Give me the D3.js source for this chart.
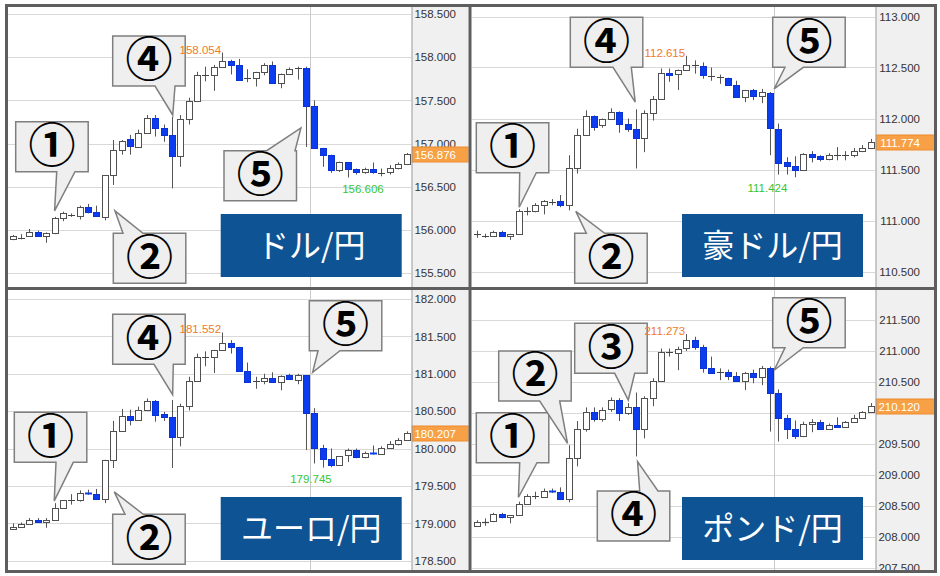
<!DOCTYPE html>
<html><head><meta charset="utf-8">
<script src="https://cdn.jsdelivr.net/npm/d3@7"></script>
<style>body{margin:0;background:#fff}svg{display:block}</style>
</head><body>
<svg id="c" width="940" height="576"></svg>
<script>
// ---------- DATA ----------
const usdOpen  = [155.89,155.91,155.93,155.98,155.93,155.96,156.14,156.17,156.16,156.26,156.21,156.15,156.63,156.92,157.05,156.96,157.12,157.29,157.18,157.10,156.85,157.28,157.49,157.79,157.79,157.89,157.95,157.91,157.76,157.76,157.83,157.91,157.70,157.81,157.86,157.88,157.43,156.95,156.87,156.69,156.78,156.70,156.67,156.70,156.66,156.67,156.72,156.76];
const usdHigh  = [155.94,155.95,156.01,155.99,155.97,156.15,156.21,156.19,156.28,156.30,156.28,156.63,157.04,157.04,157.10,157.16,157.33,157.33,157.22,157.31,157.33,157.53,157.83,157.89,157.91,158.054,157.97,157.98,157.86,157.83,157.93,157.95,157.81,157.88,157.89,157.89,157.50,156.95,156.87,156.79,156.78,156.71,156.72,156.78,156.71,156.75,156.78,156.89];
const usdLow   = [155.88,155.89,155.92,155.92,155.85,155.95,156.10,156.15,156.12,156.19,156.15,156.11,156.52,156.87,156.87,156.96,157.12,157.08,157.02,156.48,156.73,157.22,157.49,157.72,157.61,157.89,157.80,157.73,157.71,157.66,157.79,157.70,157.64,157.80,157.74,156.96,156.95,156.73,156.66,156.67,156.606,156.64,156.65,156.65,156.62,156.64,156.70,156.75];
const usdClose = [155.93,155.91,155.98,155.93,155.96,156.14,156.19,156.17,156.26,156.21,156.16,156.63,156.92,157.03,156.97,157.12,157.30,157.18,157.10,156.86,157.28,157.49,157.79,157.79,157.89,157.95,157.91,157.74,157.76,157.83,157.91,157.70,157.81,157.86,157.88,157.43,156.95,156.87,156.69,156.78,156.70,156.67,156.70,156.67,156.66,156.72,156.76,156.876];
const usdTicks = [155.5,156.0,156.5,157.0,157.5,158.0,158.5];

const audOpen  = [110.87,110.85,110.85,110.89,110.85,110.87,111.09,111.09,111.15,111.18,111.19,111.15,111.51,111.84,112.02,111.94,112.00,112.06,111.95,111.90,111.81,112.05,112.19,112.45,112.44,112.48,112.52,112.51,112.42,112.41,112.40,112.33,112.21,112.28,112.22,112.25,111.90,111.57,111.53,111.50,111.65,111.63,111.60,111.64,111.64,111.64,111.68,111.71];
const audHigh  = [110.90,110.87,110.90,110.90,110.87,111.11,111.13,111.17,111.20,111.21,111.25,111.64,111.90,112.08,112.03,112.00,112.10,112.07,112.00,112.09,112.08,112.22,112.49,112.49,112.48,112.615,112.57,112.55,112.50,112.43,112.40,112.37,112.28,112.29,112.29,112.26,111.95,111.62,111.63,111.66,111.68,111.64,111.66,111.72,111.68,111.71,111.74,111.80];
const audLow   = [110.83,110.83,110.84,110.84,110.81,110.87,111.05,111.08,111.06,111.15,111.13,111.10,111.46,111.84,111.88,111.91,112.00,111.86,111.87,111.51,111.67,111.98,112.19,112.36,112.28,112.48,112.44,112.39,112.37,112.34,112.32,112.21,112.16,112.18,112.15,111.64,111.45,111.45,111.424,111.49,111.57,111.58,111.59,111.59,111.59,111.62,111.67,111.70];
const audClose = [110.87,110.85,110.89,110.85,110.87,111.09,111.09,111.15,111.19,111.18,111.15,111.51,111.84,112.02,111.92,112.00,112.06,111.95,111.90,111.81,112.05,112.19,112.45,112.43,112.48,112.52,112.52,112.43,112.42,112.41,112.33,112.21,112.28,112.22,112.26,111.91,111.56,111.53,111.50,111.65,111.62,111.60,111.64,111.64,111.64,111.68,111.71,111.774];
const audTicks = [110.5,111.0,111.5,112.0,112.5,113.0];

const eurOpen  = [178.93,178.955,178.986,179.044,179.013,179.044,179.21,179.31,179.31,179.41,179.39,179.33,179.85,180.23,180.44,180.38,180.52,180.63,180.46,180.42,180.16,180.57,180.90,181.22,181.22,181.32,181.41,181.36,181.04,180.89,180.91,180.94,180.89,180.98,180.92,180.98,180.47,180.01,179.86,179.78,179.91,179.98,179.89,179.94,179.93,180.01,180.06,180.11];
const eurHigh  = [179.00,179.01,179.07,179.07,179.07,179.27,179.31,179.39,179.44,179.45,179.46,179.85,180.37,180.53,180.52,180.56,180.67,180.65,180.49,180.65,180.60,180.96,181.27,181.30,181.32,181.552,181.45,181.36,181.15,180.96,181.00,181.02,180.98,181.00,181.00,180.98,180.54,180.05,180.00,179.90,180.00,180.00,179.96,180.04,180.03,180.10,180.14,180.23];
const eurLow   = [178.93,178.955,178.986,179.013,178.94,179.044,179.20,179.25,179.29,179.38,179.33,179.27,179.74,180.23,180.31,180.38,180.50,180.36,180.37,179.74,180.03,180.51,180.90,181.10,181.01,181.32,181.27,181.03,180.88,180.80,180.86,180.88,180.78,180.92,180.86,179.98,179.80,179.745,179.75,179.78,179.82,179.87,179.87,179.92,179.92,180.00,180.04,180.11];
const eurClose = [178.955,178.986,179.044,179.013,179.044,179.21,179.31,179.31,179.41,179.39,179.33,179.85,180.23,180.44,180.38,180.52,180.63,180.45,180.42,180.16,180.57,180.90,181.22,181.22,181.32,181.41,181.36,181.04,180.89,180.91,180.95,180.89,180.97,180.93,180.98,180.47,180.01,179.86,179.78,179.90,179.98,179.89,179.94,179.93,180.01,180.06,180.11,180.207];
const eurTicks = [178.5,179.0,179.5,180.0,180.5,181.0,181.5,182.0];

const gbpOpen  = [208.18,208.24,208.26,208.37,208.32,208.355,208.54,208.66,208.65,208.75,208.72,208.62,209.28,209.74,210.01,209.90,210.06,210.21,210.005,210.09,209.74,210.24,210.51,210.98,210.96,211.05,211.18,211.07,210.73,210.66,210.66,210.60,210.51,210.64,210.58,210.73,210.33,209.925,209.74,209.63,209.82,209.85,209.75,209.81,209.78,209.86,209.925,210.01];
const gbpHigh  = [208.27,208.30,208.39,208.39,208.34,208.57,208.69,208.73,208.78,208.78,208.80,209.48,209.87,210.09,210.09,210.09,210.25,210.24,210.16,210.33,210.27,210.56,211.04,211.04,211.07,211.273,211.23,211.10,210.91,210.72,210.70,210.66,210.66,210.70,210.76,210.75,210.38,209.97,209.88,209.86,209.90,209.89,209.83,209.93,209.87,209.97,210.03,210.16];
const gbpLow   = [208.17,208.18,208.24,208.30,208.22,208.355,208.53,208.61,208.63,208.71,208.62,208.56,209.14,209.70,209.86,209.86,210.02,209.87,209.97,209.30,209.59,210.11,210.51,210.91,210.69,211.00,211.02,210.65,210.64,210.53,210.53,210.51,210.37,210.48,210.45,209.70,209.54,209.58,209.58,209.61,209.69,209.74,209.74,209.77,209.77,209.84,209.91,210.01];
const gbpClose = [208.25,208.24,208.37,208.32,208.355,208.54,208.66,208.66,208.75,208.72,208.62,209.28,209.74,210.01,209.90,210.05,210.21,210.005,210.09,209.74,210.24,210.51,210.98,210.98,211.04,211.18,211.07,210.73,210.64,210.66,210.60,210.51,210.64,210.58,210.73,210.33,209.925,209.74,209.63,209.82,209.85,209.75,209.81,209.78,209.86,209.925,210.01,210.12];
const gbpTicks = [207.5,208.0,208.5,209.0,209.5,210.0,210.5,211.0,211.5];

const titles = ["ドル/円","豪ドル/円","ユーロ/円","ポンド/円"];
const circled = {"1":"①","2":"②","3":"③","4":"④","5":"⑤"};

// ---------- LAYOUT ----------
const PW = 403.5, PH = 280;
const panels = [
  {id:"usd", left:8,   top:7,   axisW:57, o:usdOpen,h:usdHigh,l:usdLow,c:usdClose,ticks:usdTicks,
   yDom:[155.5,158.5], yRng:[266,7], lowAt:41.8, title:titles[0], tx:212.7,
   callouts:[
    {n:"1",at:5.0, price:156.22,bx:7.7,  by:114.7,side:"bottom",b0:48.7,b1:67},
    {n:"2",at:12.2,price:156.22,bx:105.3,by:226.3,side:"top",   b0:115, b1:135},
    {n:"4",at:19.1,price:157.33,bx:104.7,by:29,   side:"bottom",b0:147, b1:167},
    {n:"5",at:34.4,price:157.18,bx:216,  by:143.7,side:"top",   b0:258.7,b1:287}]},
  {id:"aud", left:472, top:7,   axisW:59, o:audOpen,h:audHigh,l:audLow,c:audClose,ticks:audTicks,
   yDom:[110.5,113.0], yRng:[264.5,9.5], lowAt:34.7, title:titles[1], tx:210,
   callouts:[
    {n:"1",at:5.07, price:111.13,bx:4.3,  by:115.7,side:"bottom",b0:47.7,b1:64.3},
    {n:"2",at:11.83,price:111.09,bx:102.7,by:226.3,side:"top",   b0:114.3,b1:132.7},
    {n:"4",at:18.92,price:112.16,bx:98.3, by:10.3, side:"bottom",b0:141, b1:159.3},
    {n:"5",at:35.5, price:112.29,bx:300.7,by:10.3, side:"bottom",b0:313, b1:331.3}]},
  {id:"eur", left:8,   top:290, axisW:57, o:eurOpen,h:eurHigh,l:eurLow,c:eurClose,ticks:eurTicks,
   yDom:[178.5,182.0], yRng:[270.7,9], lowAt:35.6, title:titles[2], tx:212.7,
   callouts:[
    {n:"1",at:4.96, price:179.30,bx:6.3,  by:122.3,side:"bottom",b0:48,  b1:65.3},
    {n:"2",at:12.12,price:179.42,bx:104.7,by:224.3,side:"top",   b0:117, b1:135.3},
    {n:"4",at:19.09,price:180.72,bx:104.7,by:24.3, side:"bottom",b0:146, b1:165.3},
    {n:"5",at:35.8, price:181.02,bx:301.3,by:10.7, side:"bottom",b0:310, b1:332}]},
  {id:"gbp", left:472, top:290, axisW:59, o:gbpOpen,h:gbpHigh,l:gbpLow,c:gbpClose,ticks:gbpTicks,
   yDom:[207.5,211.5], yRng:[278,30], lowAt:null, title:titles[3], tx:210,
   callouts:[
    {n:"1",at:4.98, price:208.64,bx:4.3,  by:122.7,side:"bottom",b0:47.7,b1:65},
    {n:"2",at:10.84,price:209.51,bx:26.7, by:61,   side:"bottom",b0:67.7,b1:87.7},
    {n:"3",at:18.09,price:210.21,bx:102.7,by:33.3, side:"bottom",b0:142.7,b1:162.7},
    {n:"4",at:19.2, price:209.215,bx:125.3,by:201, side:"top",   b0:167.7,b1:186},
    {n:"5",at:35.5, price:210.69,bx:300.7,by:7.7,  side:"bottom",b0:313, b1:331.3}]}
];

const NUMFONT = "'Liberation Sans Narrow','Arial Narrow','Liberation Sans',Arial,sans-serif";
const fmt = d3.format(".3f");
const svg = d3.select("#c");
svg.append("rect").attr("width",940).attr("height",576).attr("fill","#fff");
const defs = svg.append("defs");

panels.forEach(p => {
  const n = p.o.length;
  const data = d3.range(n).map(i => ({i, o:p.o[i], h:p.h[i], l:p.l[i], c:p.c[i]}));
  const x = d3.scalePoint().domain(d3.range(n)).range([0.5, 402.7]).padding(0.5);
  const step = x.step();
  const xAt = t => x(0) + t * step;
  const y = d3.scaleLinear().domain(p.yDom).range(p.yRng);

  const g = svg.append("g").attr("transform", `translate(${p.left},${p.top})`);
  defs.append("clipPath").attr("id","clip-"+p.id).append("rect").attr("width",PW).attr("height",PH);
  defs.append("clipPath").attr("id","aclip-"+p.id).append("rect").attr("width",p.axisW).attr("height",PH);

  const plot = g.append("g").attr("clip-path", `url(#clip-${p.id})`);
  plot.append("rect").attr("width",PW).attr("height",PH).attr("fill","#fff");

  // horizontal grid
  plot.selectAll("line.grid").data(p.ticks).join("line").attr("class","grid")
    .attr("x1",0).attr("x2",PW)
    .attr("y1",d=>Math.round(y(d))+0.5).attr("y2",d=>Math.round(y(d))+0.5)
    .attr("stroke","#d9d9d9").attr("stroke-width",1);
  // session break (between candle 36 and 37)
  const vx = Math.round(xAt(35.5))+0.5;
  plot.append("line").attr("x1",vx).attr("x2",vx).attr("y1",0).attr("y2",PH)
    .attr("stroke","#cacaca").attr("stroke-width",1);

  // candles
  const cg = plot.selectAll("g.candle").data(data).join("g").attr("class","candle");
  cg.append("line")
    .attr("x1",d=>Math.round(x(d.i))+0.5).attr("x2",d=>Math.round(x(d.i))+0.5)
    .attr("y1",d=>y(d.h)).attr("y2",d=>y(d.l))
    .attr("stroke","#555").attr("stroke-width",1);
  cg.each(function(d){
    const X = Math.round(x(d.i));
    const t = Math.round(y(Math.max(d.o,d.c))), b = Math.round(y(Math.min(d.o,d.c)));
    const down = d.c < d.o;
    const sel = d3.select(this);
    if (b - t < 2) {
      sel.append("line").attr("x1",X-3).attr("x2",X+4)
        .attr("y1",t+0.5).attr("y2",t+0.5)
        .attr("stroke", down ? "#0b3cf0" : "#444").attr("stroke-width", down ? 2 : 1.2);
    } else {
      sel.append("rect").attr("x",X-2.5).attr("y",t+0.5).attr("width",6).attr("height",b-t)
        .attr("fill", down ? "#0b3cf0" : "#fff")
        .attr("stroke", down ? "#0a33d2" : "#505050").attr("stroke-width",1);
    }
  });

  // title box
  plot.append("rect").attr("x",p.tx).attr("y",207).attr("width",181).attr("height",63)
    .attr("fill","#0e5494");
  plot.append("text").attr("x",p.tx+90.5).attr("y",238.5).attr("dy","0.36em")
    .attr("text-anchor","middle").attr("font-family","'Noto Sans CJK JP','Noto Sans',sans-serif")
    .attr("font-size",32).attr("fill","#fff").text(p.title);

  // callouts
  const BW = 72.5, BH = 50;
  p.callouts.forEach(co => {
    const tx = xAt(co.at), ty = y(co.price);
    const {bx, by, b0, b1} = co;
    let path;
    if (co.side === "bottom") {
      path = `M${bx},${by}H${bx+BW}V${by+BH}H${b1}L${tx},${ty}L${b0},${by+BH}H${bx}Z`;
    } else {
      path = `M${bx},${by}H${b0}L${tx},${ty}L${b1},${by}H${bx+BW}V${by+BH}H${bx}Z`;
    }
    const cgp = plot.append("g");
    cgp.append("path").attr("d",path).attr("fill","#efefef").attr("stroke","#7f7f7f")
      .attr("stroke-width",1.5).attr("stroke-linejoin","miter");
    const cx = bx + BW/2, cy = by + BH/2 - 1.5;
    cgp.append("text").attr("x",cx).attr("y",cy).attr("dy","0.36em").attr("text-anchor","middle")
      .attr("font-family","'Noto Sans CJK JP',sans-serif").attr("font-size",47)
      .attr("font-weight",700).attr("fill","#000").text(circled[co.n]);
  });

  // high / low labels on top (high = max, low = lowest low after the high)
  let hiIdx = 0;
  p.h.forEach((v,i)=>{ if (v > p.h[hiIdx]) hiIdx = i; });
  let loIdx = hiIdx;
  p.l.forEach((v,i)=>{ if (i > hiIdx && v < p.l[loIdx]) loIdx = i; });
  plot.append("text").attr("x", x(hiIdx)-1).attr("y", y(p.h[hiIdx])+1)
    .attr("text-anchor","end").attr("font-family",NUMFONT).attr("font-size",11.5)
    .attr("fill","#f07a2a").text(fmt(p.h[hiIdx]));
  if (p.lowAt != null) {
    plot.append("text").attr("x", xAt(p.lowAt)).attr("y", y(p.l[loIdx])+15)
      .attr("text-anchor","middle").attr("font-family",NUMFONT).attr("font-size",11.5)
      .attr("fill","#33c633").text(fmt(p.l[loIdx]));
  }

  // price axis (a tick label mostly hidden by the last-price marker is left out)
  const last = p.c[n-1];
  const ly = Math.round(y(last));
  const ag = svg.append("g").attr("transform", `translate(${p.left+PW},${p.top})`);
  const ain = ag.append("g").attr("clip-path", `url(#aclip-${p.id})`);
  ain.append("rect").attr("width",p.axisW).attr("height",PH).attr("fill","#f0f0f0");
  const shown = p.ticks.filter(t => Math.abs(y(t) - ly) > 8);
  const axis = d3.axisRight(y).tickValues(shown).tickSize(0).tickPadding(0).tickFormat(fmt);
  const axG = ain.append("g").call(axis);
  axG.select(".domain").remove();
  axG.attr("font-family",NUMFONT).attr("font-size",11.5);
  axG.selectAll("text").attr("x",44.5).attr("text-anchor","end")
    .attr("font-family",NUMFONT).attr("font-size",11.5).attr("fill","#333");
  // last price marker
  ain.append("rect").attr("x",0.5).attr("y",ly-7).attr("width",p.axisW).attr("height",15)
    .attr("fill","#f7a046").attr("stroke","#ee8a2c").attr("stroke-width",1);
  ain.append("text").attr("x",44.5).attr("y",ly+0.5).attr("dy","0.36em").attr("text-anchor","end")
    .attr("font-family",NUMFONT).attr("font-size",11.5).attr("fill","#fff").text(fmt(last));
  ag.append("line").attr("x1",0.5).attr("x2",0.5).attr("y1",0).attr("y2",PH)
    .attr("stroke","#9a9a9a").attr("stroke-width",1);
});

// frame & dividers
svg.append("line").attr("x1",470).attr("x2",470).attr("y1",5).attr("y2",572)
  .attr("stroke","#5e5e5e").attr("stroke-width",3);
svg.append("line").attr("x1",6).attr("x2",936).attr("y1",288.5).attr("y2",288.5)
  .attr("stroke","#5e5e5e").attr("stroke-width",3);
svg.append("rect").attr("x",6.5).attr("y",5.5).attr("width",929).attr("height",566)
  .attr("fill","none").attr("stroke","#5e5e5e").attr("stroke-width",3);
</script>
</body></html>
